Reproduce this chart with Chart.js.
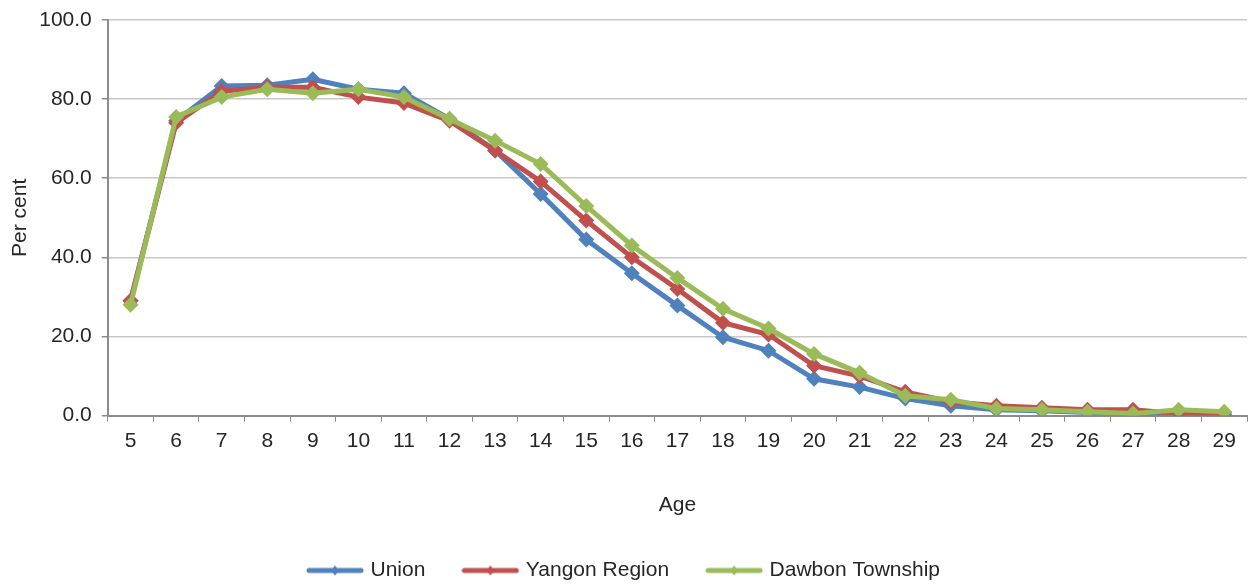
<!DOCTYPE html>
<html>
<head>
<meta charset="utf-8">
<script src="https://cdn.jsdelivr.net/npm/chart.js@4/dist/chart.umd.min.js"></script>
<style>
  html, body { margin: 0; padding: 0; background: #fff; }
  #wrap { width: 1255px; height: 585px; }
</style>
</head>
<body>
<div id="wrap"><canvas id="myChart" width="1255" height="585"></canvas></div>
<script>
// ages on the x axis
const ages = ['5','6','7','8','9','10','11','12','13','14','15','16','17','18','19','20','21','22','23','24','25','26','27','28','29'];

// per cent values
const union = [29.0, 74.5, 83.3, 83.5, 85.0, 82.5, 81.5, 75.0, 67.0, 56.0, 44.5, 36.0, 27.8, 19.8, 16.4, 9.3, 7.2, 4.3, 2.5, 1.5, 1.2, 0.8, 0.5, 0.8, 0.3];
const yangon = [29.0, 74.0, 82.0, 83.0, 83.0, 80.5, 79.0, 74.5, 67.0, 59.2, 49.3, 40.0, 32.0, 23.5, 20.5, 12.6, 10.0, 6.0, 3.5, 2.5, 2.0, 1.5, 1.5, 0.5, 0.8];
const dawbon = [28.0, 75.5, 80.5, 82.5, 81.5, 82.5, 80.5, 75.0, 69.5, 63.6, 53.0, 43.0, 34.8, 27.0, 22.0, 15.6, 10.8, 5.0, 4.0, 1.8, 1.5, 1.0, 0.5, 1.5, 1.0];

const seriesNames = ['Union', 'Yangon Region', 'Dawbon Township'];
const seriesColors = ['#4F81BD', '#C0504D', '#9BBB59'];

const FONT = 'Liberation Sans';
const TXT = '#262626';

// little line+diamond swatch for the legend
function swatch(color) {
  const c = document.createElement('canvas');
  c.width = 58; c.height = 12;
  const g = c.getContext('2d');
  g.strokeStyle = color; g.lineWidth = 5; g.lineCap = 'round';
  g.beginPath(); g.moveTo(3, 6); g.lineTo(55, 6); g.stroke();
  g.fillStyle = color;
  g.beginPath(); g.moveTo(29, 1); g.lineTo(33, 6); g.lineTo(29, 11); g.lineTo(25, 6); g.closePath(); g.fill();
  return c;
}

const data = [union, yangon, dawbon];
const ctx = document.getElementById('myChart').getContext('2d');
new Chart(ctx, {
  type: 'line',
  data: {
    labels: ages,
    datasets: data.map((d, i) => ({
      label: seriesNames[i],
      data: d,
      borderColor: seriesColors[i],
      backgroundColor: seriesColors[i],
      borderWidth: 5,
      pointStyle: 'rectRot',
      pointRadius: 8,
      pointBorderWidth: 0,
      fill: false,
      tension: 0,
      order: 3 - i
    }))
  },
  options: {
    responsive: false,
    animation: false,
    layout: { padding: { top: 0, right: 5, bottom: -6, left: 0 } },
    plugins: {
      tooltip: { enabled: false },
      legend: {
        position: 'bottom',
        labels: {
          usePointStyle: true,
          pointStyleWidth: 50,
          color: TXT,
          font: { family: FONT, size: 21 },
          padding: 40,
          generateLabels: (chart) => chart.data.datasets.map((ds, i) => ({
            text: ds.label,
            fillStyle: ds.borderColor,
            strokeStyle: ds.borderColor,
            lineWidth: 0,
            pointStyle: swatch(ds.borderColor),
            fontColor: TXT,
            datasetIndex: i,
            hidden: false
          }))
        }
      }
    },
    scales: {
      x: {
        offset: true,
        grid: { offset: true, drawOnChartArea: false, color: '#8c8c8c', tickLength: 6 },
        border: { color: '#8c8c8c', width: 2 },
        ticks: { color: TXT, font: { family: FONT, size: 21 }, maxRotation: 0, autoSkip: false, padding: 7 },
        title: { display: true, text: 'Age', color: TXT, font: { family: FONT, size: 21 }, padding: { top: 32, bottom: 2 } }
      },
      y: {
        min: 0, max: 100,
        ticks: { stepSize: 20, color: TXT, font: { family: FONT, size: 21, lineHeight: 0.95 }, padding: 10, callback: (v) => v.toFixed(1) },
        grid: { color: '#c8c8c8', lineWidth: 1.5, tickLength: 6, tickColor: '#8c8c8c' },
        border: { color: '#8c8c8c', width: 2 },
        title: { display: true, text: 'Per cent', color: TXT, font: { family: FONT, size: 21 }, padding: { top: 8, bottom: -4 } }
      }
    }
  }
});
</script>
</body>
</html>
